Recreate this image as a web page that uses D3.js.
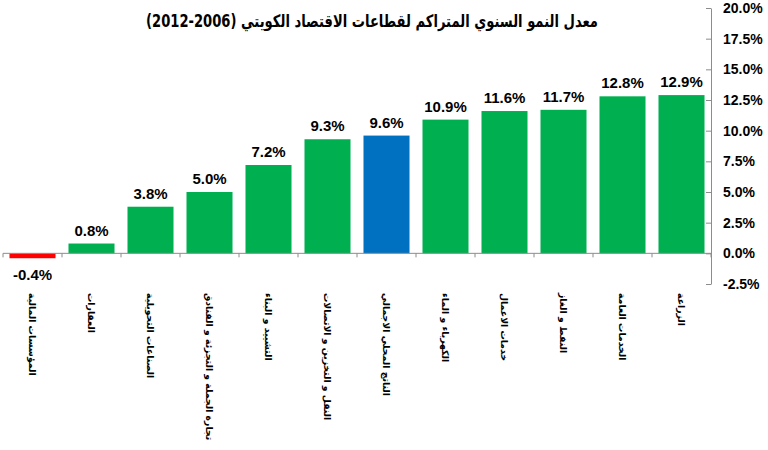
<!DOCTYPE html>
<html>
<head>
<meta charset="utf-8">
<script src="https://cdn.jsdelivr.net/npm/d3@7"></script>
<style>
  body { margin: 0; background: #fff; }
  svg { display: block; font-family: Arial, "Liberation Sans", "DejaVu Sans", sans-serif; }
  .ar { font-family: "DejaVu Sans", sans-serif; }
</style>
</head>
<body>
<script>
(function () {

    'use strict'

    // chart data, left to right as in the picture
    const sectors = [
        'المؤسسات المالية',
        'العقارات',
        'الصناعات التحويلية',
        'تجارة الجملة و التجزئة و الفنادق',
        'التشييد و البناء',
        'النقل و التخزين و الاتصالات',
        'الناتج المحلي الاجمالي',
        'الكهرباء و الماء',
        'خدمات الاعمال',
        'النفط و الغاز',
        'الخدمات العامة',
        'الزراعة'
    ]
    const growth = [-0.4, 0.8, 3.8, 5.0, 7.2, 9.3, 9.6, 10.9, 11.6, 11.7, 12.8, 12.9]
    const yTicks = [-2.5, 0, 2.5, 5, 7.5, 10, 12.5, 15, 17.5, 20]
    const title = 'معدل النمو السنوي المتراكم لقطاعات الاقتصاد الكويتي (2006-2012)'

    const width = 768, height = 450
    const plot = { left: 3, right: 711, top: 8, bottom: 284 }

    const svg = d3.select('body')
        .append('svg')
        .attr('width', width)
        .attr('height', height)

    const xScale = d3.scaleBand()
        .domain(sectors)
        .range([plot.left, plot.right])
        .paddingInner(0.22)
        .paddingOuter(0.11)

    const yScale = d3.scaleLinear()
        .domain([-2.5, 20])
        .range([plot.bottom, plot.top])

    const barColor = (d, i) => {
        if (d < 0) return '#ff0000'
        if (sectors[i] === 'الناتج المحلي الاجمالي') return '#0070c0'
        return '#00b050'
    }

    // title
    svg.append('text')
        .attr('class', 'ar')
        .attr('x', 372)
        .attr('y', 27)
        .attr('text-anchor', 'middle')
        .attr('font-size', 17)
        .attr('font-weight', 'bold')
        .attr('textLength', 452)
        .attr('lengthAdjust', 'spacingAndGlyphs')
        .attr('fill', '#000')
        .text(title)

    // bars
    svg.selectAll('.bar')
        .data(growth)
        .enter()
        .append('rect')
        .attr('class', 'bar')
        .attr('x', (d, i) => xScale(sectors[i]))
        .attr('width', xScale.bandwidth())
        .attr('y', d => yScale(Math.max(0, d)))
        .attr('height', d => Math.abs(yScale(d) - yScale(0)))
        .attr('fill', barColor)

    // zero line with category ticks
    const zeroY = yScale(0)
    const catAxis = svg.append('g').attr('class', 'axes')
    catAxis.append('line')
        .attr('x1', plot.left).attr('x2', plot.right)
        .attr('y1', zeroY).attr('y2', zeroY)
        .attr('stroke', '#8c8c8c')
        .attr('stroke-width', 1)
    const step = xScale.step()
    const bounds = d3.range(sectors.length + 1).map(i => plot.left + i * step)
    catAxis.selectAll('.ctick')
        .data(bounds)
        .enter()
        .append('line')
        .attr('x1', d => d).attr('x2', d => d)
        .attr('y1', zeroY).attr('y2', zeroY + 4)
        .attr('stroke', '#8c8c8c')

    // right y axis
    const yAxis = svg.append('g')
        .attr('class', 'axes')
        .attr('transform', 'translate(' + plot.right + ',0)')
        .call(d3.axisRight(yScale)
            .tickValues(yTicks)
            .tickSize(0)
            .tickPadding(12)
            .tickFormat(d => d.toFixed(1) + '%'))
    yAxis.select('.domain').attr('stroke', '#8c8c8c')
    yAxis.selectAll('.tick')
        .append('line')
        .attr('x1', -5).attr('x2', 0)
        .attr('stroke', '#8c8c8c')
    yAxis.selectAll('.tick text')
        .attr('font-size', 14)
        .attr('font-weight', 'bold')
        .attr('fill', '#000')
        .attr('font-family', 'Arial, "Liberation Sans", sans-serif')

    // value labels
    svg.selectAll('.value')
        .data(growth)
        .enter()
        .append('text')
        .attr('class', 'value')
        .attr('x', (d, i) => xScale(sectors[i]) + xScale.bandwidth() / 2)
        .attr('y', d => d < 0 ? yScale(d) + 22 : yScale(d) - 8)
        .attr('text-anchor', 'middle')
        .attr('font-size', 15)
        .attr('font-weight', 'bold')
        .attr('fill', '#000')
        .text(d => d.toFixed(1) + '%')

    // category labels, rotated
    svg.selectAll('.cat')
        .data(sectors)
        .enter()
        .append('text')
        .attr('class', 'cat ar')
        .attr('transform', d => 'translate(' + (xScale(d) + xScale.bandwidth() / 2) + ',293) rotate(90)')
        .attr('dy', '0.35em')
        .attr('text-anchor', 'start')
        .attr('font-size', 9.3)
        .attr('font-weight', 'bold')
        .attr('fill', '#000')
        .text(d => d)
})()
</script>
</body>
</html>
